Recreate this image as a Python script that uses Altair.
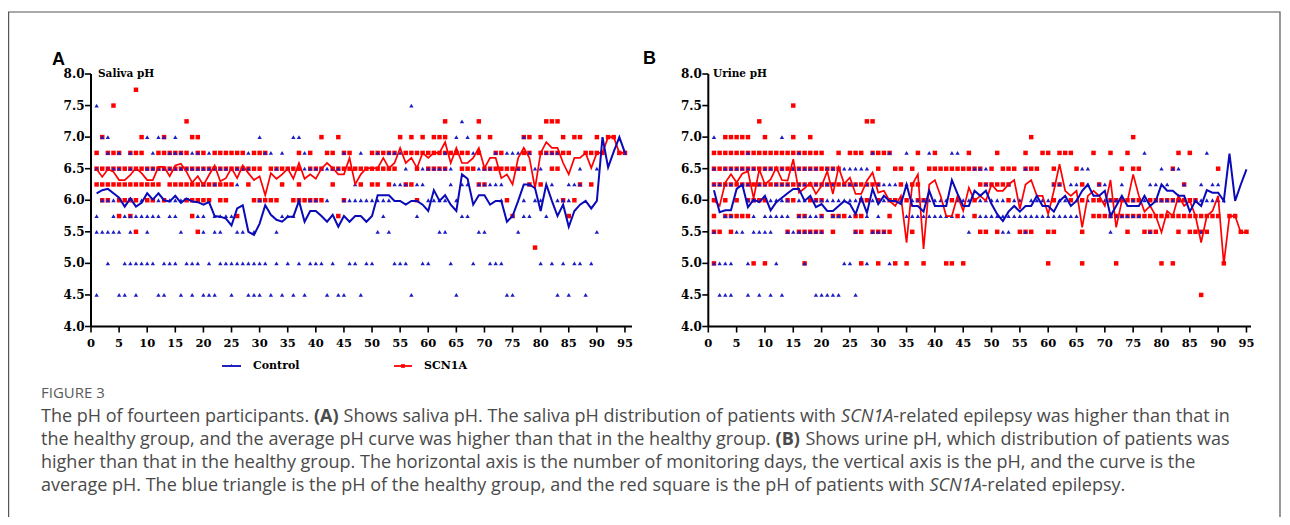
import altair as alt
import pandas as pd

# ---------------- data ----------------
DAYS = list(range(1, 96))
X_TICKS = [0, 5, 10, 15, 20, 25, 30, 35, 40, 45, 50, 55, 60, 65, 70, 75, 80, 85, 90, 95]
Y_TICKS = [4.0, 4.5, 5.0, 5.5, 6.0, 6.5, 7.0, 7.5, 8.0]

SALIVA_CONTROL_MEAN = [
    6.11, 6.16, 6.18, 6.11, 6.04, 5.90, 6.03, 5.90, 5.96, 6.11,
    6.01, 6.11, 6.00, 5.98, 6.07, 5.96, 6.03, 5.98, 5.97, 5.93,
    5.97, 5.75, 5.74, 5.71, 5.60, 5.87, 5.92, 5.50, 5.45, 5.63,
    5.92, 5.77, 5.69, 5.66, 5.74, 5.74, 5.99, 5.66, 5.83, 5.83,
    5.75, 5.66, 5.77, 5.58, 5.75, 5.66, 5.75, 5.75, 5.66, 5.75,
    6.08, 6.08, 6.08, 5.99, 5.99, 5.93, 5.99, 5.99, 5.93, 5.83,
    6.16, 5.99, 6.08, 5.93, 5.83, 6.41, 6.34, 5.93, 6.08, 6.08,
    5.93, 5.99, 5.99, 5.66, 5.75, 5.99, 6.25, 6.25, 6.19, 5.83,
    6.25, 5.99, 5.75, 5.93, 5.58, 5.83, 5.93, 5.99, 5.87, 5.99,
    7.00, 6.52, 6.77, 7.00, 6.75]
SALIVA_SCN1A_MEAN = [
    6.49, 6.37, 6.49, 6.45, 6.32, 6.32, 6.40, 6.51, 6.43, 6.32,
    6.32, 6.53, 6.53, 6.38, 6.55, 6.58, 6.45, 6.28, 6.38, 6.24,
    6.40, 6.55, 6.30, 6.35, 6.51, 6.35, 6.55, 6.43, 6.32, 6.38,
    6.08, 6.43, 6.34, 6.41, 6.50, 6.34, 6.59, 6.34, 6.41, 6.34,
    6.50, 6.59, 6.51, 6.41, 6.41, 6.67, 6.25, 6.41, 6.51, 6.51,
    6.51, 6.67, 6.51, 6.59, 6.83, 6.59, 6.67, 6.51, 6.75, 6.67,
    6.75, 6.75, 6.92, 6.59, 6.83, 6.59, 6.59, 6.67, 6.83, 6.51,
    6.67, 6.67, 6.35, 6.41, 6.25, 6.67, 6.83, 6.67, 6.19, 6.75,
    6.92, 6.83, 6.83, 6.59, 6.41, 6.67, 6.67, 6.75, 6.51, 6.75,
    6.75, 7.00, 7.00, 6.75, 6.75]
URINE_CONTROL_MEAN = [
    6.16, 5.81, 5.84, 5.84, 6.18, 6.25, 5.89, 6.01, 5.97, 6.07,
    5.84, 5.97, 6.04, 6.11, 6.18, 6.18, 5.99, 6.07, 5.89, 5.94,
    5.83, 5.83, 5.91, 5.99, 5.94, 5.78, 6.04, 5.80, 6.18, 5.94,
    6.07, 5.99, 5.99, 5.94, 6.25, 5.91, 5.91, 5.82, 6.15, 5.91,
    5.91, 5.91, 6.32, 6.10, 5.91, 5.91, 6.15, 6.07, 6.15, 5.94,
    5.78, 5.67, 5.82, 5.91, 5.82, 5.91, 5.91, 6.07, 5.91, 5.91,
    5.82, 5.99, 6.07, 5.91, 5.99, 6.15, 6.25, 6.07, 6.07, 6.15,
    5.75, 5.91, 6.07, 5.91, 5.91, 5.91, 6.07, 5.91, 5.99, 6.25,
    6.15, 6.15, 6.07, 6.07, 5.82, 5.99, 5.91, 6.16, 6.12, 6.12,
    5.99, 6.74, 5.99, 6.25, 6.49]
URINE_SCN1A_MEAN = [
    6.00, 5.91, 6.28, 6.41, 6.28, 6.42, 6.46, 6.03, 6.49, 6.25,
    6.33, 6.52, 6.32, 6.31, 6.65, 6.12, 6.19, 6.28, 6.10, 6.23,
    6.46, 6.10, 6.52, 6.26, 6.36, 6.10, 6.10, 6.31, 6.44, 6.12,
    6.15, 5.99, 5.91, 6.07, 5.33, 6.25, 6.41, 5.23, 6.25, 6.32,
    6.07, 5.75, 5.75, 6.07, 5.83, 6.20, 5.99, 6.07, 5.99, 6.25,
    6.15, 6.15, 6.25, 6.32, 5.86, 6.25, 6.32, 6.07, 6.07, 5.78,
    6.15, 6.57, 6.15, 6.07, 6.15, 5.57, 6.07, 6.15, 6.07, 5.91,
    6.32, 5.57, 5.99, 5.99, 6.41, 6.07, 5.82, 5.91, 5.75, 5.49,
    5.83, 5.75, 6.07, 5.91, 5.99, 5.75, 5.33, 5.75, 5.83, 6.07,
    4.99, 5.75, 5.75, 5.49, 5.49]

# individual readings: pH level -> days on which a marker sits at that level
SALIVA_CONTROL_PTS = {
    7.5: [1, 57],
    7.25: [66],
    7.0: [2, 3, 10, 12, 13, 15, 30, 36, 37, 65, 67, 77],
    6.75: [3, 5, 7, 11, 14, 15, 16, 18, 19, 21, 28, 31, 32, 34, 38, 45, 48, 51, 53, 54, 55,
           63, 68, 72, 74, 75, 76, 78, 81, 82, 83, 95],
    6.5: [1, 3, 4, 5, 7, 8, 10, 11, 12, 13, 14, 15, 16, 17, 18, 19, 20, 21, 22, 23, 24, 25,
          26, 27, 28, 33, 35, 38, 39, 40, 41, 42, 43, 44, 56, 59, 60, 61, 62, 63, 64, 69, 70,
          71, 76, 79, 80, 87, 90],
    6.25: [20, 22, 26, 47, 54, 55, 56, 58, 59, 64, 66, 67, 69, 70, 71, 72, 73, 78, 82, 85, 86, 87],
    6.0: [2, 3, 4, 9, 12, 14, 15, 16, 30, 39, 40, 42, 45, 46, 47, 48, 49, 50, 51, 52, 53, 60,
          61, 62, 63, 65, 73, 77, 79, 80, 83, 84, 85],
    5.75: [1, 4, 6, 7, 8, 9, 10, 11, 12, 14, 15, 19, 20, 22, 23, 24, 25, 34, 35, 36, 52, 58,
           66, 67, 75, 77, 78, 81],
    5.5: [1, 2, 3, 4, 5, 7, 10, 16, 20, 22, 23, 26, 27, 29, 33, 51, 53, 62, 63, 69, 70, 76, 90],
    5.0: [3, 6, 7, 8, 9, 10, 11, 13, 14, 15, 17, 18, 19, 21, 23, 24, 25, 26, 27, 28, 29, 30,
          31, 33, 35, 37, 39, 40, 41, 43, 46, 47, 49, 50, 54, 55, 56, 59, 60, 64, 68, 71, 72,
          73, 80, 82, 84, 86, 87, 89],
    4.5: [1, 5, 6, 8, 12, 13, 16, 18, 20, 21, 22, 25, 28, 29, 30, 32, 34, 36, 38, 42, 44, 45,
          48, 57, 65, 74, 75, 83, 85, 88],
}
SALIVA_SCN1A_PTS = {
    7.75: [8],
    7.5: [4],
    7.25: [17, 63, 69, 81, 82, 83],
    7.0: [2, 9, 13, 18, 19, 41, 44, 55, 57, 59, 61, 62, 63, 69, 71, 77, 78, 80, 84, 86, 87,
          90, 92, 93],
    6.75: [1, 3, 4, 5, 7, 8, 9, 12, 13, 14, 15, 16, 17, 19, 20, 22, 23, 24, 25, 26, 27, 29,
           30, 31, 37, 39, 42, 43, 45, 46, 50, 51, 52, 53, 54, 56, 57, 58, 59, 60, 61, 62, 63,
           64, 65, 66, 67, 69, 72, 73, 77, 78, 80, 81, 82, 83, 84, 85, 88, 89, 90, 91, 94, 95],
    6.5: [1, 2, 3, 4, 5, 6, 7, 8, 9, 10, 11, 12, 13, 14, 15, 16, 17, 18, 19, 20, 21, 22, 23,
          24, 25, 26, 27, 28, 29, 30, 32, 33, 34, 35, 36, 37, 39, 40, 41, 43, 44, 45, 46, 47,
          48, 49, 50, 51, 52, 53, 54, 58, 60, 61, 62, 63, 66, 67, 68, 70, 71, 72, 73, 74, 75,
          76, 77, 82, 83],
    6.25: [1, 2, 3, 4, 5, 6, 7, 8, 9, 10, 11, 12, 14, 15, 16, 17, 18, 19, 20, 21, 22, 23, 24,
           25, 28, 34, 37, 43, 48, 50, 51, 53, 56, 57, 69, 70, 78, 80, 87, 89],
    6.0: [2, 3, 5, 6, 7, 8, 10, 11, 13, 17, 18, 19, 20, 21, 23, 24, 29, 30, 31, 32, 33, 36,
          37, 38, 39, 40, 41, 45, 58, 74, 84, 86],
    5.75: [5, 7, 18, 26, 44, 75, 85],
    5.5: [8, 19],
    5.25: [79],
}
URINE_CONTROL_PTS = {
    7.0: [1, 13],
    6.75: [7, 16, 29, 32, 35, 39, 43, 44, 77, 88],
    6.5: [1, 3, 4, 5, 6, 7, 8, 10, 11, 12, 13, 15, 16, 17, 18, 19, 21, 22, 23, 24, 25, 26,
          27, 28, 47, 48, 49, 56, 66, 67, 80, 82, 83],
    6.25: [1, 2, 3, 4, 6, 7, 9, 10, 12, 13, 14, 16, 17, 19, 20, 21, 22, 24, 25, 26, 28, 30,
           31, 32, 33, 35, 49, 50, 53, 61, 62, 64, 65, 67, 69, 70, 73, 78, 79, 81, 84, 87, 89, 90],
    6.0: [7, 8, 11, 12, 13, 14, 16, 17, 19, 20, 21, 22, 23, 24, 25, 26, 29, 31, 34, 36, 37,
          38, 39, 40, 41, 42, 44, 45, 46, 48, 49, 50, 51, 52, 54, 55, 57, 58, 59, 60, 62, 63,
          65, 67, 70, 71, 72, 75, 77, 79, 80, 81, 82, 83, 86, 87, 88, 89, 90, 91],
    5.75: [3, 4, 8, 10, 11, 12, 13, 14, 16, 17, 18, 19, 20, 22, 23, 25, 28, 30, 35, 36, 37,
           38, 39, 40, 41, 42, 43, 45, 48, 49, 50, 51, 52, 53, 54, 55, 56, 57, 58, 59, 60, 61,
           62, 63, 64, 65, 71, 72, 73, 74, 75, 76],
    5.5: [1, 5, 6, 8, 9, 10, 11, 14, 15, 16, 17, 18, 19, 20, 26, 29, 30, 31, 46, 52, 53, 56,
          71, 78, 87],
    5.0: [1, 2, 3, 4, 7, 12, 17, 24, 25, 28, 32],
    4.5: [2, 3, 4, 7, 9, 11, 13, 19, 20, 21, 22, 23, 26],
}
URINE_SCN1A_PTS = {
    7.5: [15],
    7.25: [9, 28, 29],
    7.0: [3, 4, 5, 6, 7, 10, 15, 18, 57, 75],
    6.75: [1, 2, 3, 4, 5, 6, 7, 8, 9, 10, 11, 12, 13, 14, 15, 16, 17, 18, 19, 20, 23, 25, 26,
           27, 29, 30, 31, 32, 37, 40, 46, 51, 56, 59, 60, 62, 63, 64, 68, 71, 74, 83, 85],
    6.5: [1, 2, 3, 4, 5, 6, 7, 8, 9, 10, 11, 12, 13, 14, 15, 16, 17, 18, 19, 20, 21, 22, 23,
          30, 33, 34, 36, 39, 40, 41, 42, 43, 44, 45, 46, 47, 48, 50, 52, 53, 54, 56, 57, 58,
          61, 65, 73, 75, 76, 82, 90],
    6.25: [1, 2, 3, 4, 5, 6, 7, 8, 9, 10, 11, 12, 13, 14, 15, 16, 17, 18, 19, 20, 21, 22, 23,
           24, 25, 26, 27, 28, 29, 30, 34, 36, 37, 48, 49, 50, 51, 52, 53, 61, 62, 66, 69, 84],
    6.0: [1, 3, 5, 7, 8, 9, 10, 14, 15, 18, 19, 20, 27, 28, 30, 32, 33, 35, 37, 38, 43, 47,
          53, 61, 64, 66, 68, 69, 71, 72, 73, 74, 75, 76, 78, 79, 80, 81, 82, 83, 84, 85, 86],
    5.75: [1, 3, 4, 5, 6, 7, 16, 17, 20, 22, 23, 24, 26, 27, 32, 44, 47, 68, 69, 70, 71, 72,
           73, 74, 75, 76, 77, 78, 79, 80, 81, 82, 83, 84, 85, 86, 87, 88, 89, 90, 92, 93],
    5.5: [1, 2, 4, 14, 16, 17, 18, 19, 20, 22, 26, 27, 29, 30, 31, 32, 36, 48, 49, 51, 55,
          56, 57, 60, 61, 66, 74, 77, 78, 79, 83, 85, 86, 87, 88, 94, 95],
    5.0: [1, 8, 10, 17, 27, 30, 33, 35, 38, 42, 43, 45, 60, 66, 72, 80, 82, 91],
    4.5: [87],
}

CAPTION_TITLE = "FIGURE 3"
# each caption line as (text, style) pieces: n = normal, b = bold, i = italic
CAPTION_LINES = [
    [("The pH of fourteen participants. ", "n"), ("(A)", "b"),
     (" Shows saliva pH. The saliva pH distribution of patients with ", "n"), ("SCN1A", "i"),
     ("-related epilepsy was higher than that in", "n")],
    [("the healthy group, and the average pH curve was higher than that in the healthy group. ", "n"),
     ("(B)", "b"), (" Shows urine pH, which distribution of patients was", "n")],
    [("higher than that in the healthy group. The horizontal axis is the number of monitoring days, "
      "the vertical axis is the pH, and the curve is the", "n")],
    [("average pH. The blue triangle is the pH of the healthy group, and the red square is the pH "
      "of patients with ", "n"), ("SCN1A", "i"), ("-related epilepsy.", "n")],
]

# ---------------- styling ----------------
RED = "#ff0000"
BLUE_PT = "#1c1cc4"
BLUE_LN = "#0a0ab8"
SERIF = "DejaVu Serif"
SANS = "Liberation Sans"
CAP_FONT = "Open Sans"
CAP_SIZE = 18
W, H = 1274, 509
Y_RANGE = [318.5, 66]

# approximate Open Sans advance widths (em) used to chain the caption pieces
_REG = {' ': .260, 'a': .556, 'b': .613, 'c': .476, 'd': .613, 'e': .561, 'f': .339, 'g': .548,
        'h': .614, 'i': .253, 'j': .253, 'k': .525, 'l': .253, 'm': .930, 'n': .614, 'o': .604,
        'p': .613, 'q': .613, 'r': .408, 's': .477, 't': .353, 'u': .614, 'v': .501, 'w': .778,
        'x': .524, 'y': .502, 'z': .477, 'A': .633, 'B': .648, 'C': .631, 'H': .738, 'N': .765,
        'S': .550, 'T': .553, '1': .572, '(': .296, ')': .296, '.': .266, ',': .244, '-': .322}
_BOLD = {'(': .344, ')': .344, 'A': .694, 'B': .710}
_ITAL = {'S': .490, 'C': .570, 'N': .720, '1': .550, 'A': .565}


def text_w(s, style):
    extra = _BOLD if style == "b" else (_ITAL if style == "i" else {})
    return sum(extra.get(c, _REG.get(c, .55)) for c in s) * CAP_SIZE


def pts_frame(d):
    return pd.DataFrame([{"day": day, "ph": lvl} for lvl, days in d.items() for day in days])


def panel(ctrl_mean, scn_mean, ctrl_pts, scn_pts, x_range, x_max):
    xs = alt.Scale(domain=[0, x_max], range=x_range, nice=False, zero=False)
    ys = alt.Scale(domain=[4, 8], range=Y_RANGE, nice=False, zero=False)
    X = alt.X("day:Q", scale=xs, axis=None)
    Y = alt.Y("ph:Q", scale=ys, axis=None)
    x0 = x_range[0]

    red_pts = alt.Chart(pts_frame(scn_pts)).mark_point(
        shape="square", filled=True, size=20, color=RED, opacity=1, strokeWidth=0
    ).encode(x=X, y=Y)
    blue_pts = alt.Chart(pts_frame(ctrl_pts)).mark_point(
        shape="triangle-up", filled=True, size=19, color=BLUE_PT, opacity=1, strokeWidth=0
    ).encode(x=X, y=Y)
    red_line = alt.Chart(pd.DataFrame({"day": DAYS, "ph": scn_mean})).mark_line(
        color=RED, strokeWidth=1.7
    ).encode(x=X, y=Y)
    blue_line = alt.Chart(pd.DataFrame({"day": DAYS, "ph": ctrl_mean})).mark_line(
        color=BLUE_LN, strokeWidth=2
    ).encode(x=X, y=Y)

    yaxis = alt.Chart(pd.DataFrame({"day": [0], "ph": [4.0], "ph2": [8.0]})).mark_rule(
        color="black", strokeWidth=2
    ).encode(x=X, y=Y, y2="ph2:Q")
    xaxis = alt.Chart(pd.DataFrame({"day": [0], "day2": [x_max], "ph": [4.0]})).mark_rule(
        color="black", strokeWidth=2
    ).encode(x=X, x2="day2:Q", y=Y)
    yt = pd.DataFrame({"ph": Y_TICKS})
    yticks = alt.Chart(yt).mark_rule(color="black", strokeWidth=1.6).encode(
        x=alt.value(x0 - 6), x2=alt.value(x0), y=Y)
    ylabels = alt.Chart(yt).mark_text(
        align="right", baseline="middle", font=SERIF, fontWeight="bold", fontSize=12, color="black"
    ).encode(x=alt.value(x0 - 6.5), y=Y, text=alt.Text("ph:Q", format=".1f"))
    xt = pd.DataFrame({"day": X_TICKS})
    xticks = alt.Chart(xt).mark_rule(color="black", strokeWidth=1.6).encode(
        x=X, y=alt.value(Y_RANGE[0]), y2=alt.value(Y_RANGE[0] + 6))
    xlabels = alt.Chart(xt).mark_text(
        align="center", baseline="middle", font=SERIF, fontWeight="bold", fontSize=11.5, color="black"
    ).encode(x=X, y=alt.value(335.5), text=alt.Text("day:Q", format="d"))

    return alt.layer(red_pts, blue_pts, red_line, blue_line,
                     xaxis, yaxis, yticks, ylabels, xticks, xlabels)


def label(s, x, y, **kw):
    return alt.Chart(pd.DataFrame({"t": [s]})).mark_text(**kw).encode(
        x=alt.value(x), y=alt.value(y), text="t:N")


one = pd.DataFrame({"a": [0]})

panel_a = panel(SALIVA_CONTROL_MEAN, SALIVA_SCN1A_MEAN, SALIVA_CONTROL_PTS, SALIVA_SCN1A_PTS,
                [83, 624], 96.25)
panel_b = panel(URINE_CONTROL_MEAN, URINE_SCN1A_MEAN, URINE_CONTROL_PTS, URINE_SCN1A_PTS,
                [700.3, 1243], 95.8)

border = alt.Chart(one).mark_rect(fill=None, stroke="#555555", strokeWidth=1.2).encode(
    x=alt.value(0.6), x2=alt.value(1272), y=alt.value(4), y2=alt.value(560))

decos = [
    border,
    label("A", 44, 57, align="left", baseline="alphabetic", font=SANS, fontWeight="bold", fontSize=18),
    label("B", 635, 56, align="left", baseline="alphabetic", font=SANS, fontWeight="bold", fontSize=18),
    label("Saliva pH", 90, 69, align="left", baseline="alphabetic", font=SERIF, fontWeight="bold", fontSize=10.5),
    label("Urine pH", 705, 69, align="left", baseline="alphabetic", font=SERIF, fontWeight="bold", fontSize=10.5),
    # legend
    alt.Chart(one).mark_rule(color=BLUE_LN, strokeWidth=1.8).encode(
        x=alt.value(214), x2=alt.value(233), y=alt.value(358)),
    alt.Chart(one).mark_point(shape="triangle-up", filled=True, size=14, color=BLUE_PT, opacity=1).encode(
        x=alt.value(223.5), y=alt.value(357.5)),
    label("Control", 245, 358, align="left", baseline="middle", font=SERIF, fontWeight="bold", fontSize=11),
    alt.Chart(one).mark_rule(color=RED, strokeWidth=1.8).encode(
        x=alt.value(386), x2=alt.value(404), y=alt.value(358)),
    alt.Chart(one).mark_point(shape="square", filled=True, size=14, color=RED, opacity=1).encode(
        x=alt.value(395), y=alt.value(358)),
    label("SCN1A", 416, 358, align="left", baseline="middle", font=SERIF, fontWeight="bold", fontSize=11),
    # caption
    label(CAPTION_TITLE, 33, 385, align="left", baseline="middle", font=CAP_FONT, fontSize=15, color="#5a5a5a"),
]
for i, pieces in enumerate(CAPTION_LINES):
    cursor = 33.0
    for txt, style in pieces:
        lead = len(txt) - len(txt.lstrip(" "))
        kw = dict(align="left", baseline="middle", font=CAP_FONT, fontSize=CAP_SIZE, color="#4a4a4a")
        if style == "b":
            kw["fontWeight"] = "bold"
        if style == "i":
            kw["fontStyle"] = "italic"
        decos.append(label(txt.strip(" "), cursor + lead * _REG[' '] * CAP_SIZE, 409 + 23 * i, **kw))
        cursor += text_w(txt, style)

chart = alt.layer(panel_a, panel_b, *decos).resolve_scale(x="independent").properties(
    width=W, height=H, autosize=alt.AutoSizeParams(type="none"), padding=0
).configure_view(strokeWidth=0)

chart.save("out.html", embed_options={"renderer": "svg", "actions": False})
